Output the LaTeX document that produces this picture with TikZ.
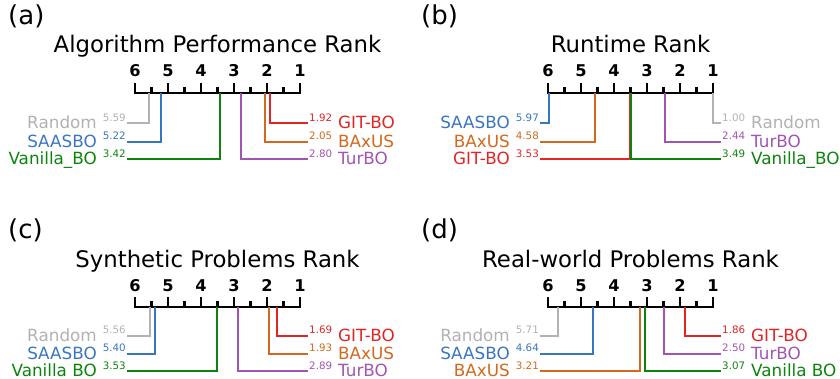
\documentclass[tikz,border=0pt]{standalone}
\usepackage{fontspec}
\setmainfont{DejaVu Sans}
\definecolor{rndgray}{RGB}{178,178,178}
\definecolor{saasblue}{RGB}{58,117,196}
\definecolor{vangreen}{RGB}{12,132,12}
\definecolor{gitred}{RGB}{226,36,36}
\definecolor{baxorange}{RGB}{210,105,30}
\definecolor{turpurple}{RGB}{162,84,178}
\usetikzlibrary{calc}

\begin{document}
\begin{tikzpicture}[
    x=1pt, y=-1pt,
    axisline/.style={line width=2.2pt},
    rankline/.style={line width=2pt},
    tagtext/.style={inner sep=0pt, font=\fontsize{26}{30}\selectfont},
    titletext/.style={inner sep=0pt, font=\fontsize{22.8}{26}\selectfont},
    ticktext/.style={inner sep=0pt, font=\fontsize{16.2}{20}\selectfont\bfseries},
    nametext/.style={inner sep=0pt, font=\fontsize{16.8}{20}\selectfont},
    numtext/.style={inner sep=0pt, font=\fontsize{10.3}{12}\selectfont}
]
    \useasboundingbox (0,0) rectangle (840,379);

    % axes of the four panels
    \foreach \px/\py/\tag/\ttl in {135/93/a/Algorithm Performance Rank, 548/93/b/Runtime Rank, 135/307/c/Synthetic Problems Rank, 548/307/d/Real-world Problems Rank} {
        \begin{scope}[shift={(\px,\py)}]
            \node[tagtext, anchor=base west] (tag-\tag) at (-127,-68) {(\tag)};
            \node[titletext, anchor=base] (title-\tag) at (82.5,-40) {\ttl};
            \draw[axisline] (0,0) -- (165,0);
            \foreach \k in {1,...,6} {
                \draw[axisline] ({(6-\k)*33},1.1) -- ++(0,-11.1);
                \node[ticktext, anchor=base] (tick-\tag-\k) at ({(6-\k)*33},-16) {\k};
            }
            \foreach \k in {1,...,5}
                \draw[axisline] ({(6-\k)*33-16.5},1.1) -- ++(0,-7.1);
        \end{scope}
    }

    % (a) algorithm performance
    \begin{scope}[shift={(135,93)}]
        \foreach \r/\row/\col/\name [count=\i] in {5.59/30.3/rndgray/Random, 5.22/48.7/saasblue/SAASBO, 3.42/66.3/vangreen/Vanilla\_BO} {
            \coordinate (a-l\i) at ({(6-\r)*33},0);
            \draw[rankline, \col] (a-l\i) |- (-8,\row) coordinate (a-le\i);
            \node[numtext, text=\col, anchor=base east] (a-ln\i) at (-9,\row-2) {\r};
            \node[nametext, text=\col, anchor=base east] (a-lt\i) at (-38,\row+5.5) {\name};
        }
        \foreach \r/\row/\col/\name [count=\i] in {1.92/30.3/gitred/GIT-BO, 2.05/48.7/baxorange/BAxUS, 2.80/66.3/turpurple/TurBO} {
            \coordinate (a-r\i) at ({(6-\r)*33},0);
            \draw[rankline, \col] (a-r\i) |- (173,\row) coordinate (a-re\i);
            \node[numtext, text=\col, anchor=base west] (a-rn\i) at (174,\row-2) {\r};
            \node[nametext, text=\col, anchor=base west] (a-rt\i) at (203,\row+5.5) {\name};
        }
    \end{scope}

    % (b) runtime
    \begin{scope}[shift={(548,93)}]
        \foreach \r/\row/\col/\name [count=\i] in {5.97/30.3/saasblue/SAASBO, 4.58/48.7/baxorange/BAxUS, 3.53/66.3/gitred/GIT-BO} {
            \coordinate (b-l\i) at ({(6-\r)*33},0);
            \draw[rankline, \col] (b-l\i) |- (-8,\row) coordinate (b-le\i);
            \node[numtext, text=\col, anchor=base east] (b-ln\i) at (-9,\row-2) {\r};
            \node[nametext, text=\col, anchor=base east] (b-lt\i) at (-38,\row+5.5) {\name};
        }
        \foreach \r/\row/\col/\name [count=\i] in {1.00/30.3/rndgray/Random, 2.44/48.7/turpurple/TurBO, 3.49/66.3/vangreen/Vanilla\_BO} {
            \coordinate (b-r\i) at ({(6-\r)*33},0);
            \draw[rankline, \col] (b-r\i) |- (173,\row) coordinate (b-re\i);
            \node[numtext, text=\col, anchor=base west] (b-rn\i) at (174,\row-2) {\r};
            \node[nametext, text=\col, anchor=base west] (b-rt\i) at (203,\row+5.5) {\name};
        }
    \end{scope}

    % (c) synthetic problems
    \begin{scope}[shift={(135,307)}]
        \foreach \r/\row/\col/\name [count=\i] in {5.56/28.5/rndgray/Random, 5.40/46.5/saasblue/SAASBO, 3.53/64/vangreen/Vanilla BO} {
            \coordinate (c-l\i) at ({(6-\r)*33},0);
            \draw[rankline, \col] (c-l\i) |- (-8,\row) coordinate (c-le\i);
            \node[numtext, text=\col, anchor=base east] (c-ln\i) at (-9,\row-2) {\r};
            \node[nametext, text=\col, anchor=base east] (c-lt\i) at (-38,\row+5.5) {\name};
        }
        \foreach \r/\row/\col/\name [count=\i] in {1.69/28.5/gitred/GIT-BO, 1.93/46.5/baxorange/BAxUS, 2.89/64/turpurple/TurBO} {
            \coordinate (c-r\i) at ({(6-\r)*33},0);
            \draw[rankline, \col] (c-r\i) |- (173,\row) coordinate (c-re\i);
            \node[numtext, text=\col, anchor=base west] (c-rn\i) at (174,\row-2) {\r};
            \node[nametext, text=\col, anchor=base west] (c-rt\i) at (203,\row+5.5) {\name};
        }
    \end{scope}

    % (d) real-world problems
    \begin{scope}[shift={(548,307)}]
        \foreach \r/\row/\col/\name [count=\i] in {5.71/28.5/rndgray/Random, 4.64/46.5/saasblue/SAASBO, 3.21/64/baxorange/BAxUS} {
            \coordinate (d-l\i) at ({(6-\r)*33},0);
            \draw[rankline, \col] (d-l\i) |- (-8,\row) coordinate (d-le\i);
            \node[numtext, text=\col, anchor=base east] (d-ln\i) at (-9,\row-2) {\r};
            \node[nametext, text=\col, anchor=base east] (d-lt\i) at (-38,\row+5.5) {\name};
        }
        \foreach \r/\row/\col/\name [count=\i] in {1.86/28.5/gitred/GIT-BO, 2.50/46.5/turpurple/TurBO, 3.07/64/vangreen/Vanilla BO} {
            \coordinate (d-r\i) at ({(6-\r)*33},0);
            \draw[rankline, \col] (d-r\i) |- (173,\row) coordinate (d-re\i);
            \node[numtext, text=\col, anchor=base west] (d-rn\i) at (174,\row-2) {\r};
            \node[nametext, text=\col, anchor=base west] (d-rt\i) at (203,\row+5.5) {\name};
        }
    \end{scope}
\end{tikzpicture}
\end{document}
